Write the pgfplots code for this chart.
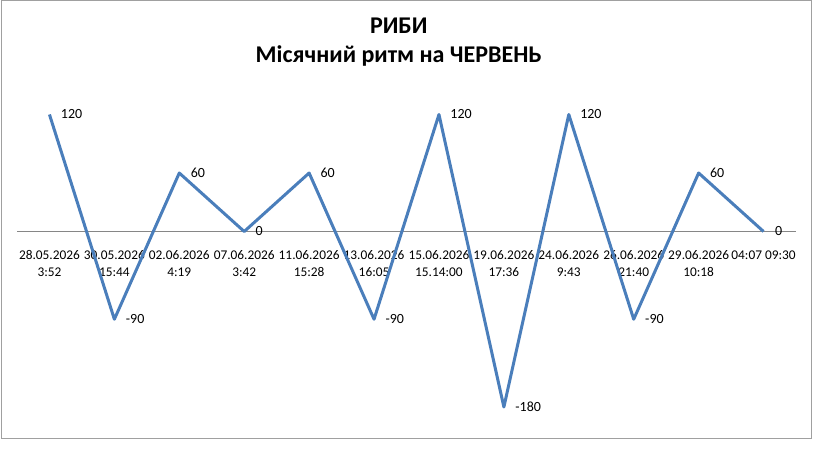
\documentclass[border=0pt]{standalone}
\usepackage{pgfplots}
\pgfplotsset{compat=1.18}
\usepackage{fontspec}
\setmainfont{Carlito}
\definecolor{serieblue}{RGB}{74,126,187}
\definecolor{framegray}{RGB}{160,160,160}
\definecolor{axisgray}{RGB}{134,134,134}
\begin{document}
\begin{tikzpicture}
  % page: 813x463 px at 0.75pt per px
  \path[use as bounding box] (0,0) rectangle (609.75pt,-347.25pt);
  \draw[framegray, line width=0.75pt] (0.75pt,-0.75pt) rectangle (608.25pt,-328.5pt);
  \begin{axis}[
    at={(12.75pt,-319.875pt)}, anchor=south west,
    scale only axis,
    width=584.25pt, height=255.94pt,
    xmin=-0.5, xmax=11.5,
    ymin=-200, ymax=150,
    axis x line*=middle,
    axis y line=none,
    x axis line style={axisgray, line width=0.75pt},
    hide obscured x ticks=false,
    ytick=\empty,
    xtick={0,...,11},
    major tick length=0pt,
    xticklabels={{28.05.2026\\3:52},{30.05.2026\\15:44},{02.06.2026\\4:19},
      {07.06.2026\\3:42},{11.06.2026\\15:28},{13.06.2026\\16:05},
      {15.06.2026\\15.14:00},{19.06.2026\\17:36},{24.06.2026\\9:43},
      {26.06.2026\\21:40},{29.06.2026\\10:18},{04:07 09:30}},
    xticklabel style={font=\fontsize{10}{12.75}\selectfont, align=center,
      anchor=north, inner sep=0pt, yshift=-14pt},
    title={РИБИ\\Місячний ритм на ЧЕРВЕНЬ},
    title style={font=\bfseries\fontsize{18}{21.5}\selectfont, align=center,
      at={(axis description cs:0.49,1)}, anchor=north, inner sep=0pt,
      yshift=44.4pt},
    /pgf/number format/assume math mode=true,
    clip=false,
  ]
  \addplot[color=serieblue, line width=2.25pt, line join=round, mark=none,
    nodes near coords,
    every node near coord/.append style={anchor=west, inner sep=0pt,
      xshift=7.5pt, font=\fontsize{10.5}{12}\selectfont, text=black}]
    coordinates {
      (0,120) (1,-90) (2,60) (3,0) (4,60) (5,-90)
      (6,120) (7,-180) (8,120) (9,-90) (10,60) (11,0)
    };
  \end{axis}
\end{tikzpicture}
\end{document}
